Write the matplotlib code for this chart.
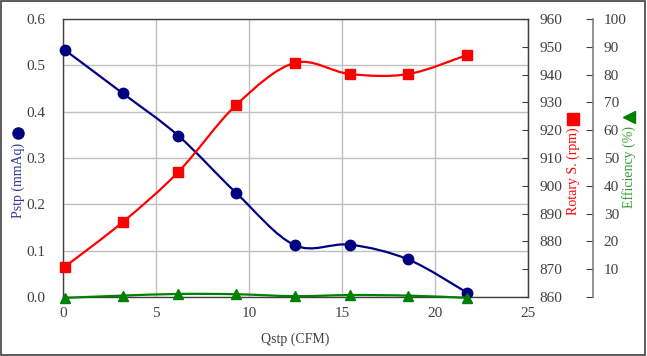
import numpy as np
import matplotlib
matplotlib.use('Agg')
import matplotlib.pyplot as plt
from matplotlib.path import Path
from matplotlib.patches import PathPatch, Rectangle

# data
qstp = [0.1, 3.2, 6.2, 9.3, 12.45, 15.43, 18.56, 21.74]
pstp = [0.533, 0.440, 0.348, 0.225, 0.112, 0.113, 0.081, 0.009]
rpm = [870.9, 886.9, 905.0, 929.0, 944.2, 940.2, 940.2, 947.1]
eff = [-0.3, 0.5, 1.1, 1.0, 0.3, 0.7, 0.5, -0.3]

x_ticks = [0, 5, 10, 15, 20, 25]
p_ticks = [0.0, 0.1, 0.2, 0.3, 0.4, 0.5, 0.6]
rpm_ticks = [860, 870, 880, 890, 900, 910, 920, 930, 940, 950, 960]
eff_ticks = [0, 10, 20, 30, 40, 50, 60, 70, 80, 90, 100]

BLUE = '#000080'
RED = '#ff0000'
GREEN = '#008000'
TICK_C = '#404040'

plt.rcParams['font.family'] = ['Liberation Serif', 'DejaVu Serif']


def smooth_path(x, y):
    # bezier segments like a spreadsheet "smoothed line"
    pts = np.column_stack([x, y]).astype(float)
    n = len(pts)
    verts = [pts[0]]
    codes = [Path.MOVETO]
    for i in range(n - 1):
        p0 = pts[i - 1] if i > 0 else pts[i]
        p1 = pts[i]
        p2 = pts[i + 1]
        p3 = pts[i + 2] if i + 2 < n else pts[i + 1]
        verts += [p1 + (p2 - p0) / 6, p2 - (p3 - p1) / 6, p2]
        codes += [Path.CURVE4] * 3
    return Path(verts, codes)


def draw_series(axis, x, y, color, marker, ms):
    patch = PathPatch(smooth_path(x, y), fill=False, edgecolor=color, lw=1.6,
                      transform=axis.transData, clip_on=False, zorder=3)
    axis.add_patch(patch)
    axis.plot(x, y, linestyle='none', marker=marker, color=color, ms=ms,
              clip_on=False, zorder=4)


fig = plt.figure(figsize=(6.47, 3.56), dpi=100)
fig.patch.set_facecolor('white')
fig.patches.append(Rectangle((0.002, 0.003), 0.995, 0.993, transform=fig.transFigure,
                             fill=False, edgecolor='#404040', lw=1.2))

ax = fig.add_axes([0.0974, 0.1657, 0.7187, 0.7809])
ax2 = ax.twinx()
ax3 = ax.twinx()

ax.set_xlim(0, 25)
ax.set_ylim(0, 0.6)
ax.set_xticks(x_ticks)
ax.set_yticks(p_ticks)
ax.set_yticklabels(['%.1f' % v for v in p_ticks])
ax.grid(True, color='#c0c0c0', lw=1.0)
ax.set_axisbelow(True)
ax.tick_params(length=0, labelsize=11, labelcolor=TICK_C)
ax.tick_params(axis='y', pad=13)
ax.tick_params(axis='x', pad=7)
for s in ax.spines.values():
    s.set_color('#404040')
    s.set_linewidth(1.0)

ax2.set_ylim(860, 960)
ax2.set_yticks(rpm_ticks)
ax2.tick_params(direction='in', length=4, labelsize=11, labelcolor=TICK_C, color='#404040', pad=8)
for s in ax2.spines.values():
    s.set_visible(False)
ax2.spines['right'].set_visible(True)
ax2.spines['right'].set_color('#404040')

ax3.set_ylim(0, 100)
ax3.set_yticks(eff_ticks)
ax3.set_yticklabels([''] + [str(v) for v in eff_ticks[1:]])
ax3.spines['right'].set_position(('axes', 1.139))
for s in ax3.spines.values():
    s.set_visible(False)
ax3.spines['right'].set_visible(True)
ax3.spines['right'].set_color('#808080')
ax3.spines['right'].set_linewidth(1.2)
ax3.tick_params(direction='in', length=5, labelsize=11, labelcolor=TICK_C, color='#404040', pad=8)

draw_series(ax3, qstp, eff, GREEN, '^', 7.5)
draw_series(ax2, qstp, rpm, RED, 's', 7.5)
draw_series(ax, qstp, pstp, BLUE, 'o', 7.5)

ax.set_xlabel('Qstp (CFM)', fontsize=10, color=TICK_C, labelpad=9)

# axis titles with their legend keys
ax.text(-0.097, 0.42, 'Pstp (mmAq)', rotation=90, transform=ax.transAxes,
        ha='center', va='center', fontsize=10, color='#333399')
ax.plot([-0.0968], [0.59], 'o', color=BLUE, ms=8, transform=ax.transAxes, clip_on=False)
ax.text(1.098, 0.451, 'Rotary S. (rpm)', rotation=90, transform=ax.transAxes,
        ha='center', va='center', fontsize=10, color=RED)
ax.plot([1.097], [0.642], 's', color=RED, ms=8, transform=ax.transAxes, clip_on=False)
ax.text(1.218, 0.468, 'Efficiency (%)', rotation=90, transform=ax.transAxes,
        ha='center', va='center', fontsize=10, color='#33a033')
ax.plot([1.217], [0.646], '<', color=GREEN, ms=8, transform=ax.transAxes, clip_on=False)

fig.savefig('out.png', dpi=100)
